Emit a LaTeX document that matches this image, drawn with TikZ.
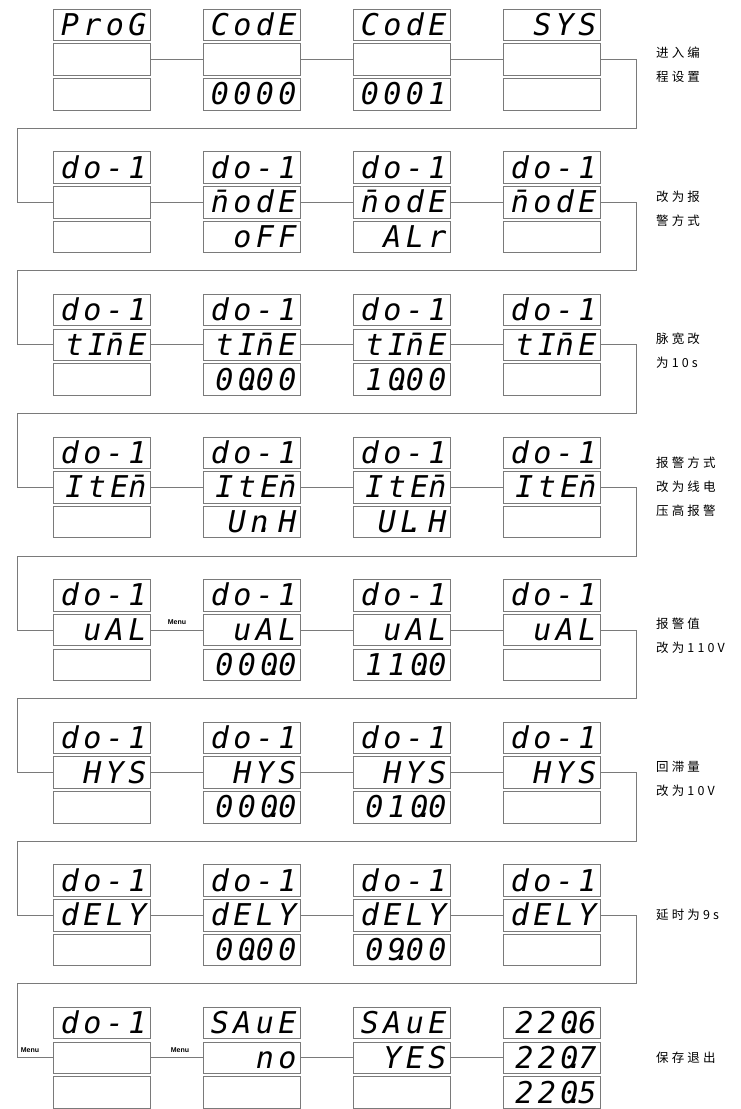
\documentclass[tikz,border=0pt]{standalone}
\usepackage{fontspec}
\usetikzlibrary{positioning, backgrounds}
\newfontfamily\segfont[LetterSpace=15]{DejaVu Sans Mono}
\newfontfamily\cjk[LetterSpace=25]{Noto Sans CJK SC}
\newfontfamily\menufont{Liberation Sans}
\definecolor{framegray}{HTML}{7A7A7A}
\newcommand\segpt{\makebox[0pt]{\hspace*{-6.5pt}.}}
\newcommand\mseg{\makebox[0pt][l]{¯}n}

\begin{document}
\begin{tikzpicture}[x=1pt, y=-1pt,
    every node/.style={inner sep=0pt},
    lcd/.style={draw=framegray, fill=white, line width=0.8pt, minimum width=97pt, minimum height=31.5pt,
        text width=90pt, align=right, text height=23pt, text depth=2pt,
        font=\segfont\itshape\fontsize{30}{30}\selectfont},
    wire/.style={draw=framegray, line width=0.8pt},
    note/.style={anchor=west, align=left, font=\cjk\fontsize{12.5}{24}\selectfont},
    menu/.style={font=\menufont\bfseries\fontsize{7}{7}\selectfont}
]
\useasboundingbox (0,0) rectangle (740,1109);
% Displays: row/column/top/middle/bottom
\foreach \r/\c/\t/\m/\b in {
    0/0/ProG/{}/{}, 0/1/CodE/{}/0000, 0/2/CodE/{}/0001, 0/3/SYS/{}/{},
    1/0/do-1/{}/{}, 1/1/do-1/\mseg odE/oFF, 1/2/do-1/\mseg odE/ALr, 1/3/do-1/\mseg odE/{},
    2/0/do-1/tI\mseg E/{}, 2/1/do-1/tI\mseg E/00\segpt00, 2/2/do-1/tI\mseg E/10\segpt00, 2/3/do-1/tI\mseg E/{},
    3/0/do-1/ItE\mseg/{}, 3/1/do-1/ItE\mseg/Un\segpt\ H, 3/2/do-1/ItE\mseg/UL\segpt\ H, 3/3/do-1/ItE\mseg/{},
    4/0/do-1/uAL/{}, 4/1/do-1/uAL/000\segpt0, 4/2/do-1/uAL/110\segpt0, 4/3/do-1/uAL/{},
    5/0/do-1/HYS/{}, 5/1/do-1/HYS/000\segpt0, 5/2/do-1/HYS/010\segpt0, 5/3/do-1/HYS/{},
    6/0/do-1/dELY/{}, 6/1/do-1/dELY/00\segpt00, 6/2/do-1/dELY/09\segpt00, 6/3/do-1/dELY/{},
    7/0/do-1/{}/{}, 7/1/SAuE/no/{}, 7/2/SAuE/YES/{}, 7/3/220\segpt6/220\segpt7/220\segpt5} {
  \node[lcd] (t\r\c) at (101.5+150*\c, 24.9+142.6*\r) {\t};
  \node[lcd] (m\r\c) at (101.5+150*\c, 59.6+142.6*\r) {\m};
  \node[lcd] (b\r\c) at (101.5+150*\c, 94.3+142.6*\r) {\b};
}
\begin{scope}[on background layer]
% Links along each row
\foreach \r in {0,...,7}
  \foreach \c/\d in {0/1, 1/2, 2/3}
    \draw[wire] (m\r\c.east) -- (m\r\d.west);
% Links down to the next row
\foreach \r/\s in {0/1, 1/2, 2/3, 3/4, 4/5, 5/6, 6/7} {
  \coordinate (j\r) at (636, 128.1+142.6*\r);
  \coordinate (k\r) at (17, 128.1+142.6*\r);
  \draw[wire] (m\r3.east) -| (j\r) -- (k\r) |- (m\s0.west);
}
\end{scope}
% Menu keys
\node[menu] (menu1) at (177, 622) {Menu};
\node[menu] (menu2) at (30, 1050) {Menu};
\node[menu] (menu3) at (180, 1050) {Menu};
% Steps
\node[note] (n0) at (656, 65) {进入编\\程设置};
\node[note] (n1) at (656, 208.5) {改为报\\警方式};
\node[note] (n2) at (656, 351) {脉宽改\\为10s};
\node[note] (n3) at (656, 487) {报警方式\\改为线电\\压高报警};
\node[note] (n4) at (656, 636) {报警值\\改为110V};
\node[note] (n5) at (656, 779) {回滞量\\改为10V};
\node[note] (n6) at (656, 915) {延时为9s};
\node[note] (n7) at (656, 1058) {保存退出};
\end{tikzpicture}
\end{document}
